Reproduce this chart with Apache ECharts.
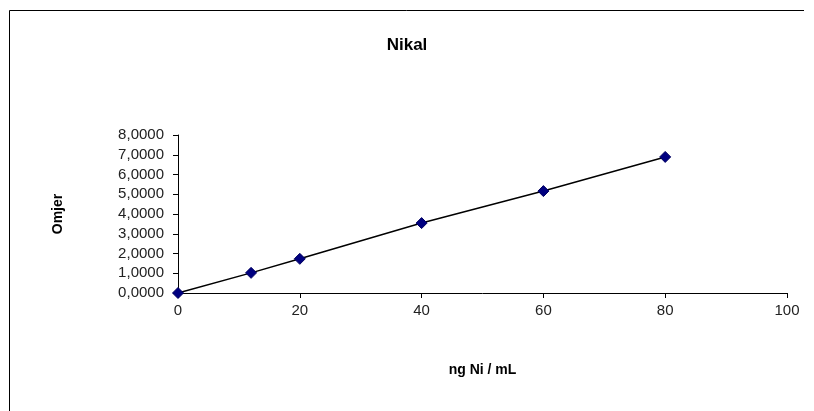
<!DOCTYPE html>
<html><head><meta charset="utf-8">
<script src="https://cdn.jsdelivr.net/npm/echarts@6/dist/echarts.min.js"></script>
<style>html,body{margin:0;padding:0;background:#fff}#c{width:814px;height:411px}</style>
</head><body><div id="c"></div>
<script>
var xValues = [0, 12, 20, 40, 60, 80];
var yValues = [0.0, 1.02, 1.73, 3.54, 5.16, 6.89];
var titleText = 'Nikal';
var xName = 'ng Ni / mL';
var yName = 'Omjer';

var chart = echarts.init(document.getElementById('c'));
var font = 'Liberation Sans, Arial, sans-serif';
chart.setOption({
  animation: false,
  backgroundColor: '#fff',
  title: { text: titleText, left: 'center', top: 32, textStyle: { fontFamily: font, fontSize: 17, fontWeight: 'bold', color: '#000' } },
  graphic: [{ type: 'polyline', shape: { points: [[9.5, 420], [9.5, 10.5], [804, 10.5]] }, style: { stroke: '#000', lineWidth: 1, fill: null } }],
  grid: { left: 178, right: 27, top: 135, bottom: 118, containLabel: false },
  xAxis: {
    type: 'value', min: 0, max: 100, interval: 20,
    name: xName, nameLocation: 'middle', nameGap: 70,
    nameTextStyle: { fontFamily: font, fontSize: 14, fontWeight: 'bold', color: '#000' },
    axisLine: { lineStyle: { color: '#000', width: 1 } },
    axisTick: { show: true, length: 5, inside: false, lineStyle: { color: '#000' } },
    axisLabel: { fontFamily: font, fontSize: 15, color: '#222', margin: 10 },
    splitLine: { show: false }
  },
  yAxis: {
    type: 'value', min: 0, max: 8, interval: 1,
    name: yName, nameLocation: 'middle', nameGap: 113, nameRotate: 90,
    nameTextStyle: { fontFamily: font, fontSize: 14, fontWeight: 'bold', color: '#000' },
    axisLine: { show: true, lineStyle: { color: '#000', width: 1 } },
    axisTick: { show: true, length: 5, lineStyle: { color: '#000' } },
    axisLabel: { fontFamily: font, fontSize: 15, color: '#222', margin: 14,
      formatter: function (v) { return v.toFixed(4).replace('.', ','); } },
    splitLine: { show: false }
  },
  series: [{
    type: 'line',
    data: xValues.map(function (x, i) { return [x, yValues[i]]; }),
    symbol: 'diamond', symbolSize: 11,
    itemStyle: { color: '#000080', borderColor: '#000060', borderWidth: 1 },
    lineStyle: { color: '#000', width: 1.5 },
    z: 3
  }]
});
</script></body></html>
